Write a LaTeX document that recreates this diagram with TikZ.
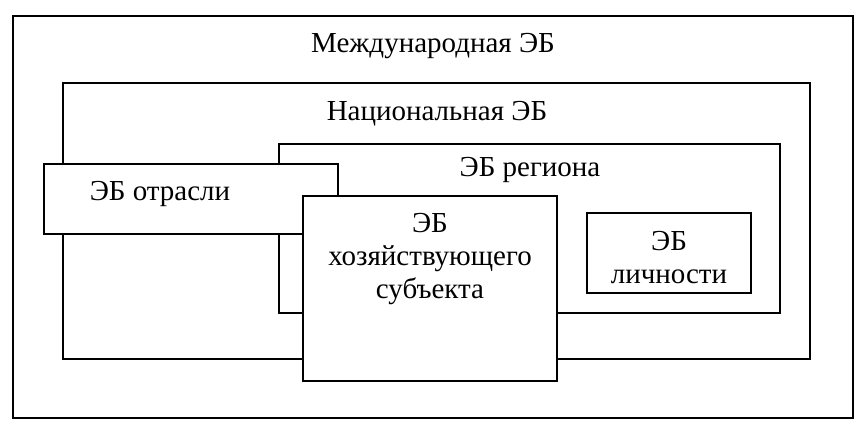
\documentclass[tikz,border=0pt]{standalone}
\usepackage{fontspec}
\setmainfont{Liberation Serif}
\usetikzlibrary{positioning}

\begin{document}
\begin{tikzpicture}[x=1pt,y=-1pt,
  frame/.style={draw, line width=2pt, fill=white},
  lbl/.style={font=\fontsize{29}{33}\selectfont, inner sep=0pt, align=center}]
\useasboundingbox (0,0) rectangle (861,426);
% corners of the boxes
\foreach \n/\a/\b/\c/\d in {intl/13/16/853/418, natl/63/83/810/359, reg/279/144/780/313, ind/44/164/338/234, firm/303/196/557/381, pers/587/213/751/293}
{
    \coordinate (\n-nw) at (\a,\b);
    \coordinate (\n-se) at (\c,\d);
}
\draw[frame](intl-nw) rectangle (intl-se);
\draw[frame](natl-nw) rectangle (natl-se);
\draw[frame](reg-nw) rectangle (reg-se);
\draw[frame](ind-nw) rectangle (ind-se);
\draw[frame](firm-nw) rectangle (firm-se);
\draw[frame](pers-nw) rectangle (pers-se);

\node[lbl, anchor=base] (intl-t) at (433,52) {Международная ЭБ};
\node[lbl, anchor=base] (natl-t) at (437,120) {Национальная ЭБ};
\node[lbl, anchor=base] (reg-t) at (530,176) {ЭБ региона};
\node[lbl, anchor=base] (ind-t) at (160,200) {ЭБ отрасли};
\node[lbl, anchor=north] (firm-t) at (430,213) {ЭБ\\хозяйствующего\\субъекта};
\node[lbl, anchor=north] (pers-t) at (669,231) {ЭБ\\личности};
\end{tikzpicture}
\end{document}
